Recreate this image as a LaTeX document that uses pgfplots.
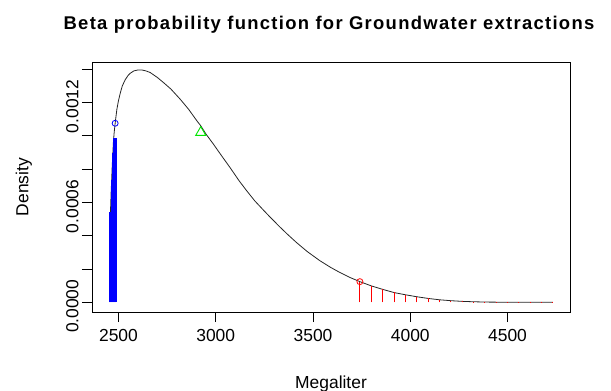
\documentclass[border=0pt]{standalone}
\usepackage{fontspec}
\setmainfont{Liberation Sans}
\newfontfamily\titlefont[LetterSpace=7]{Liberation Sans}
\usepackage{pgfplots}
\pgfplotsset{compat=1.18}
\definecolor{rgreen}{RGB}{0,230,0}
\begin{document}
\begin{tikzpicture}
\path[use as bounding box] (-92bp,-79bp) rectangle (519bp,312bp);
\begin{axis}[
 scale only axis, width=478bp, height=250bp,
 xmin=2364, xmax=4821, ymin=-0.0000583, ymax=0.001443,
 axis line style={line width=0.8bp},
 tick align=outside, major tick length=10bp,
 tick style={black, line width=0.8bp},
 xtick={2500,3000,3500,4000,4500},
 xticklabels={2500,3000,3500,4000,4500},
 ytick={0,0.0002,0.0004,0.0006,0.0008,0.0010,0.0012,0.0014},
 yticklabels={0.0000,,,0.0006,,,0.0012,},
 xtick pos=lower, ytick pos=left,
 scaled y ticks=false, scaled x ticks=false,
 ticklabel style={font=\fontsize{17.5}{20}\selectfont},
 xticklabel style={yshift=-4bp},
 yticklabel style={rotate=90, anchor=south, xshift=-4bp},
 clip=false,
]
\addplot[black!85, line width=0.8bp] coordinates {
(2455,0.00040) (2462,0.00065) (2468,0.00082) (2474,0.00096) (2478,0.00102)
(2483,0.001075) (2492,0.00116) (2500,0.00121) (2509,0.001255) (2520,0.00130)
(2534,0.001335) (2548,0.00136) (2560,0.001375) (2580,0.00139) (2600,0.001395)
(2620,0.001395) (2640,0.00139) (2663,0.00138) (2700,0.00135) (2731,0.00132)
(2770,0.00128) (2817,0.00122) (2860,0.00116) (2903,0.00109) (2923,0.00106)
(2950,0.00101) (2988,0.00095) (3030,0.00088) (3073,0.00081) (3120,0.00073)
(3159,0.00067) (3200,0.00061) (3244,0.000555) (3279,0.000512) (3330,0.000452)
(3370,0.000407) (3416,0.000358) (3470,0.000305) (3535,0.000250) (3590,0.000210)
(3638,0.000179) (3690,0.000149) (3741,0.000124) (3801,0.000098) (3860,0.000077)
(3918,0.000058) (3976,0.000045) (4035,0.000033) (4093,0.000023) (4151,0.000015)
(4210,0.0000095) (4268,0.0000055) (4330,0.000003) (4400,0.0000012) (4500,0.0000003)
(4600,0) (4733,0)
};
\addplot[blue, ycomb, line width=1.6bp] coordinates {
(2457,0.00054) (2460,0.00054) (2463,0.00054) (2466,0.000735)
(2469,0.000897) (2472,0.000897) (2475,0.000987) (2478,0.000987)
(2481,0.000987) (2484,0.000987) (2486,0.000987)
};
\addplot[red, ycomb, line width=0.8bp] coordinates {
(3741,0.000124) (3799,0.0000985) (3858,0.000078) (3916,0.000059) (3974,0.000046)
(4033,0.000034) (4091,0.000023) (4149,0.000015) (4207,0.0000097) (4266,0.000006)
(4324,0.000004) (4382,0.000004) (4441,0.000004) (4499,0.000004) (4557,0.000004)
(4616,0.000004) (4674,0.000004) (4733,0.000004)
};
\addplot[only marks, mark=o, mark size=3bp, blue, mark options={line width=0.8bp}] coordinates {(2483,0.001075)};
\addplot[only marks, mark=o, mark size=3bp, red, mark options={line width=0.8bp}] coordinates {(3741,0.000124)};
\addplot[only marks, mark=triangle, mark size=5.8bp, rgreen, mark options={line width=0.9bp}] coordinates {(2923,0.00102)};
\node[font=\titlefont\fontsize{18.5}{22}\selectfont\bfseries, anchor=base] at ([xshift=-2bp, yshift=32bp]rel axis cs:0.5,1) {Beta probability function for Groundwater extractions};
\node[font=\fontsize{17.5}{20}\selectfont, anchor=base] at ([yshift=-76bp]rel axis cs:0.5,0) {Megaliter};
\node[font=\fontsize{17.5}{20}\selectfont, anchor=base, rotate=90] at ([xshift=-63.7bp]rel axis cs:0,0.5) {Density};
\end{axis}
\end{tikzpicture}
\end{document}
